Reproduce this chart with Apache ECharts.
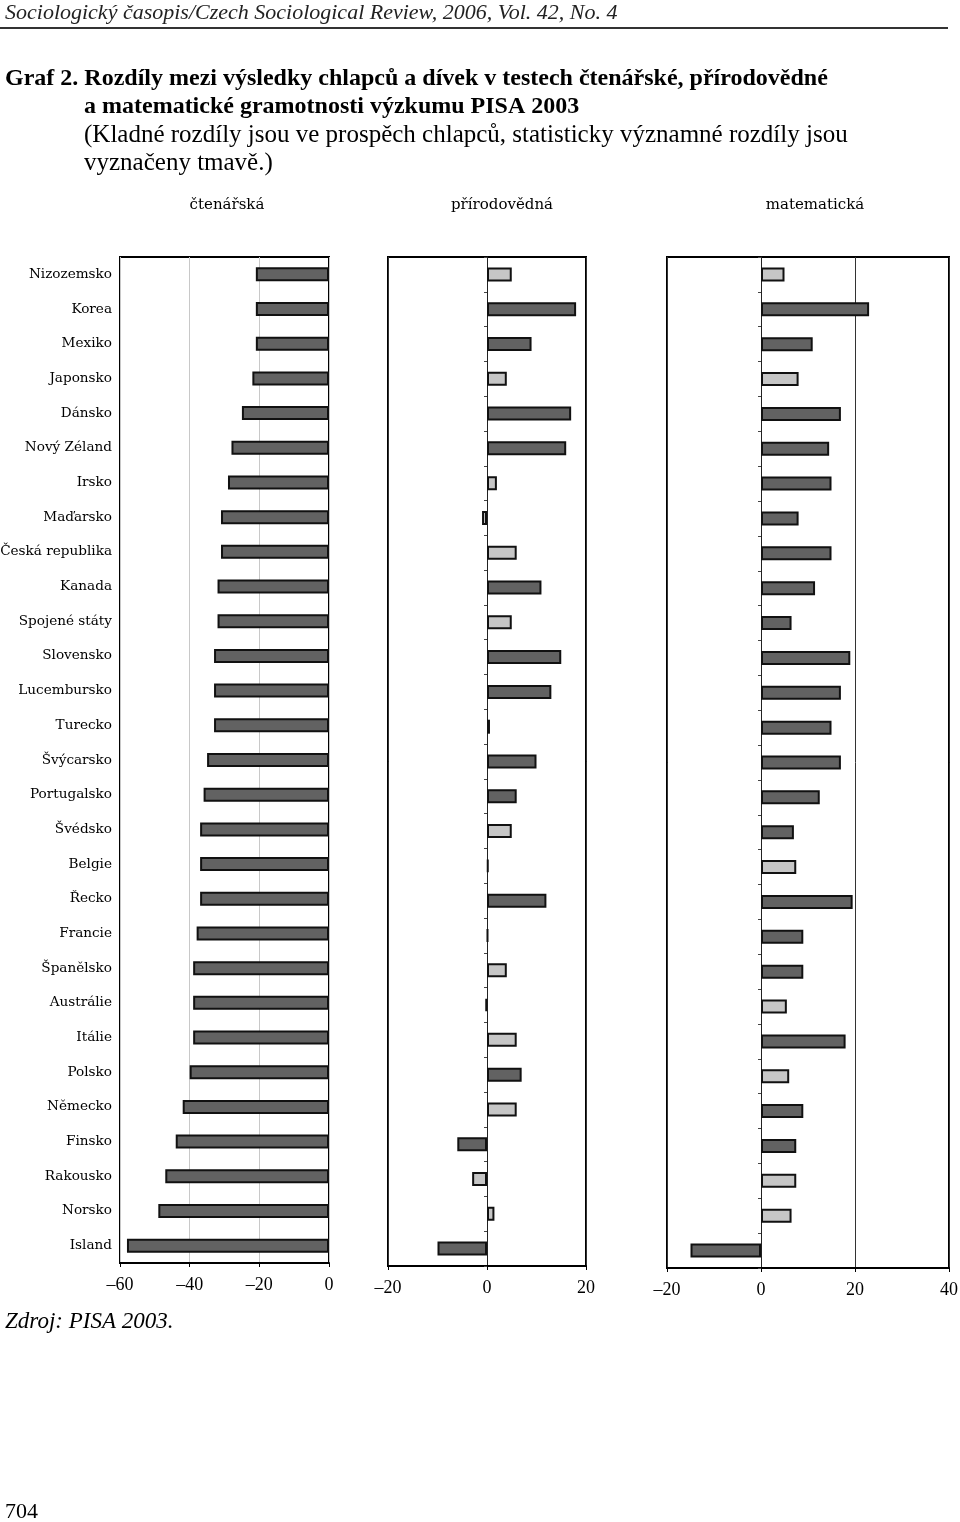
<!DOCTYPE html>
<html><head><meta charset="utf-8">
<script src="https://cdn.jsdelivr.net/npm/echarts@6/dist/echarts.min.js"></script>
<style>html,body{margin:0;padding:0;background:#fff}#c{width:960px;height:1522px}</style>
</head><body><div id="c"></div>
<script>
const countries = ["Nizozemsko","Korea","Mexiko","Japonsko","Dánsko","Nový Zéland","Irsko","Maďarsko","Česká republika","Kanada","Spojené státy","Slovensko","Lucembursko","Turecko","Švýcarsko","Portugalsko","Švédsko","Belgie","Řecko","Francie","Španělsko","Austrálie","Itálie","Polsko","Německo","Finsko","Rakousko","Norsko","Island"];
const readingDiff = [-21,-21,-21,-22,-25,-28,-29,-31,-31,-32,-32,-33,-33,-33,-35,-36,-37,-37,-37,-38,-39,-39,-39,-40,-42,-44,-47,-49,-58];
const readingSig  = [1,1,1,1,1,1,1,1,1,1,1,1,1,1,1,1,1,1,1,1,1,1,1,1,1,1,1,1,1];
const scienceDiff = [5,18,9,4,17,16,2,-1,6,11,5,15,13,0.6,10,6,5,0.3,12,0.2,4,-0.3,6,7,6,-6,-3,1.5,-10];
const scienceSig  = [0,1,1,0,1,1,0,0,0,1,0,1,1,1,1,1,0,1,1,1,0,1,0,1,0,1,0,0,1];
const mathDiff    = [5,23,11,8,17,14.5,15,8,15,11.5,6.5,19,17,15,17,12.5,7,7.5,19.5,9,9,5.5,18,6,9,7.5,7.5,6.5,-15];
const mathSig     = [0,1,1,0,1,1,1,1,1,1,1,1,1,1,1,1,1,0,1,1,1,0,1,0,1,1,0,0,1];
const panelTitles = ["čtenářská","přírodovědná","matematická"];

const DARK = '#626262', LIGHT = '#c6c6c6';
const SERIF = '"Liberation Serif", "DejaVu Serif", serif';
const LABELFONT = '"DejaVu Serif", serif';

function barData(vals, sig){
  return vals.map((v,i)=>({value:v,itemStyle:{color: sig[i] ? DARK : LIGHT}}));
}
const fmt = v => v < 0 ? '\u2013' + Math.abs(v) : String(v);

const grids = [
  {left:120, width:209, top:257, height:1006},
  {left:388, width:198, top:257, height:1009},
  {left:667, width:282, top:257, height:1011}
];
const xRanges = [[-60,0],[-20,20],[-20,40]];
const splitColors = ['#c8c8c8','#333','#333'];

const chart = echarts.init(document.getElementById('c'));
chart.setOption({
  animation:false,
  backgroundColor:'#fff',
  grid: grids.map(g=>Object.assign({show:true, borderColor:'#000', borderWidth:2, backgroundColor:'transparent', containLabel:false, outerBoundsMode:'none'}, g)),
  xAxis: xRanges.map((r,i)=>({
    type:'value', gridIndex:i, min:r[0], max:r[1], interval:20,
    axisLine:{show:true, onZero:false, lineStyle:{color:'#000', width:2}},
    axisTick:{show:true, length:4, lineStyle:{color:'#000'}},
    axisLabel:{formatter:fmt, color:'#000', fontFamily:SERIF, fontSize:18, margin:13},
    splitLine:{show:true, lineStyle:{color:splitColors[i], width:1}}
  })),
  yAxis: [0,1,2].map(i=>({
    type:'category', gridIndex:i, data:countries, inverse:true,
    axisLine: i===0 ? {show:false} : {show:true, onZero:true, lineStyle:{color:'#222', width:1}},
    axisTick: i===0 ? {show:false} : {show:true, length:3, lineStyle:{color:'#444'}},
    axisLabel: i===0 ? {show:true, color:'#000', fontFamily:LABELFONT, fontSize:13.6, margin:8} : {show:false},
    splitLine:{show:false}
  })),
  series: [
    {type:'bar', xAxisIndex:0, yAxisIndex:0, data:barData(readingDiff, readingSig)},
    {type:'bar', xAxisIndex:1, yAxisIndex:1, data:barData(scienceDiff, scienceSig)},
    {type:'bar', xAxisIndex:2, yAxisIndex:2, data:barData(mathDiff, mathSig)}
  ].map(s=>Object.assign(s,{barWidth:14, itemStyle:{borderColor:'#111', borderWidth:2}})),
  graphic: [
    {type:'text', left:5, top:2, style:{text:'Sociologický časopis/Czech Sociological Review, 2006, Vol. 42, No. 4', font:'italic 22px '+SERIF, fill:'#222'}},
    {type:'rect', shape:{x:0, y:27, width:948, height:2}, style:{fill:'#333'}},
    {type:'text', left:5, top:67, style:{text:'Graf 2. Rozdíly mezi výsledky chlapců a dívek v testech čtenářské, přírodovědné', font:'bold 24px '+SERIF, fill:'#000'}},
    {type:'text', left:84, top:95, style:{text:'a matematické gramotnosti výzkumu PISA 2003', font:'bold 24px '+SERIF, fill:'#000'}},
    {type:'text', left:84, top:123, style:{text:'(Kladné rozdíly jsou ve prospěch chlapců, statisticky významné rozdíly jsou', font:'25px '+SERIF, fill:'#000'}},
    {type:'text', left:84, top:151, style:{text:'vyznačeny tmavě.)', font:'25px '+SERIF, fill:'#000'}},
    {type:'text', x:227, y:205, style:{text:panelTitles[0], font:'15px '+LABELFONT, fill:'#000', align:'center', verticalAlign:'middle'}},
    {type:'text', x:502, y:205, style:{text:panelTitles[1], font:'15px '+LABELFONT, fill:'#000', align:'center', verticalAlign:'middle'}},
    {type:'text', x:815, y:205, style:{text:panelTitles[2], font:'15px '+LABELFONT, fill:'#000', align:'center', verticalAlign:'middle'}},
    {type:'text', left:5, top:1310, style:{text:'Zdroj: PISA 2003.', font:'italic 23px '+SERIF, fill:'#000'}},
    {type:'text', left:5, top:1501, style:{text:'704', font:'22px '+SERIF, fill:'#000'}}
  ]
});
</script></body></html>
